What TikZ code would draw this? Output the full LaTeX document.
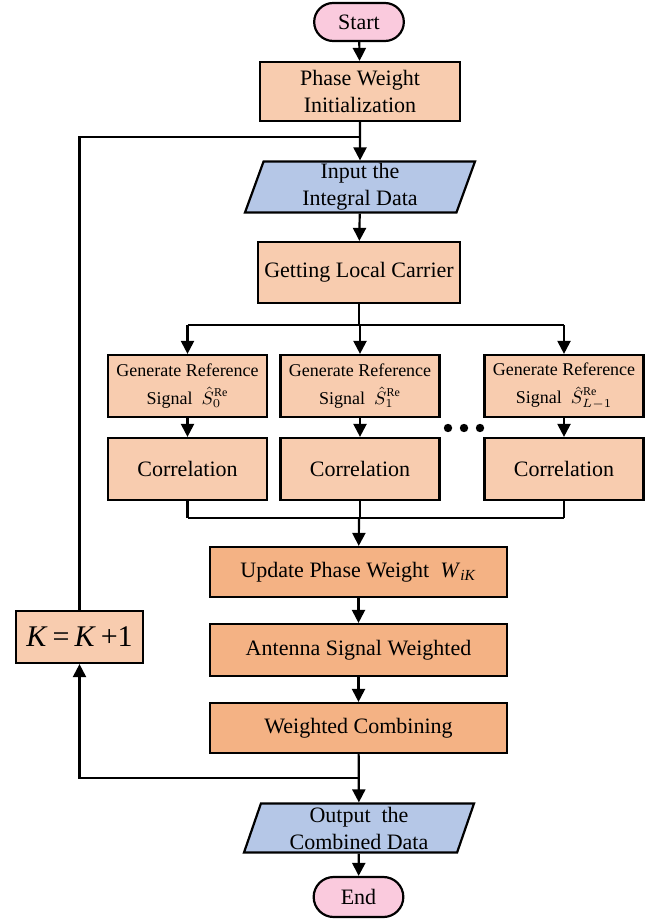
\documentclass[tikz,border=0pt]{standalone}
\usepackage{fontspec}
\setmainfont{Liberation Serif}
\usetikzlibrary{arrows.meta,
                positioning,
                shapes.geometric,
                shapes.misc}

\definecolor{pinkfill}{RGB}{250,202,221}
\definecolor{peach}{RGB}{248,204,175}
\definecolor{darkpeach}{RGB}{244,178,132}
\definecolor{bluefill}{RGB}{181,199,231}

\tikzset{
  terminal/.style = {draw, line width=1.1pt, rounded rectangle, fill=pinkfill,
                     minimum width=51.5pt, minimum height=19pt,
                     font=\fontsize{11}{13.5}\selectfont},
  process/.style  = {draw, line width=1.1pt, fill=peach, align=center, inner sep=1pt,
                     font=\fontsize{11}{13.5}\selectfont},
  gen/.style      = {process, minimum width=79.5pt, minimum height=31pt,
                     font=\fontsize{9}{11}\selectfont},
  io/.style       = {draw, line width=1.1pt, fill=bluefill, trapezium,
                     trapezium left angle=70, trapezium right angle=110,
                     trapezium stretches body, align=center, inner sep=1pt,
                     minimum width=115pt, minimum height=24.5pt,
                     font=\fontsize{11}{13.5}\selectfont},
  wire/.style     = {line width=1.1pt},
  link/.style     = {wire, -{Triangle[length=6.5pt,width=6.5pt]}}
}

\begin{document}
\begin{tikzpicture}[x=0.5pt, y=-0.5pt]
\useasboundingbox (0,0) rectangle (652,919);

\node (start) [terminal] at (359,22) {Start};
\node (init) [process, minimum width=100pt, minimum height=29.5pt] at (360,91.5)
     {Phase Weight\\Initialization};
\node (input) [io] at (360,187) {Input the\\Integral Data};
\node (carrier) [process, minimum width=101pt, minimum height=30.5pt] at (359,272.5)
     {Getting Local Carrier};

\coordinate (top) at (360,137);
\coordinate (split) at (359,325);
\coordinate (merge) at (359,518);
\coordinate (back) at (359,778);

% three branches
\foreach \n/\xc/\sub in {0/187.5/0, 1/360/1, 2/564/{L-1}} {
    \node (gen\n) [gen] at (\xc,386) {Generate Reference\\[3pt]Signal\ \ $\hat{S}_{\sub}^{\mathrm{Re}}$};
    \node (cor\n) [process, minimum width=79.5pt, minimum height=31pt] at (\xc,469) {Correlation};
    \draw[link] (gen\n.north |- split) -- (gen\n.north);
    \draw[link] (gen\n) -- (cor\n);
    \draw[wire] (cor\n.south) -- (cor\n.south |- merge);
}
\foreach \d in {448,464,480}
    \fill (\d,428) circle (2.1pt);

\node (update) [process, fill=darkpeach, minimum width=148.5pt, minimum height=25pt] at (358.5,572)
     {Update Phase Weight\ \ \textit{W}\textsubscript{\textit{iK}}};
\node (antenna) [process, fill=darkpeach, minimum width=148.5pt, minimum height=26pt] at (358.5,650)
     {Antenna Signal Weighted};
\node (weighted) [process, fill=darkpeach, minimum width=148.5pt, minimum height=25pt] at (358.5,728)
     {Weighted Combining};
\node (kbox) [process, minimum width=63.5pt, minimum height=26pt,
              font=\fontsize{15}{17}\selectfont] at (79.5,637)
     {\textit{K}\,=\,\textit{K}\,+1};
\node (output) [io] at (359,828) {Output\ \ the\\Combined Data};
\node (end) [terminal, minimum height=20pt] at (358.5,897) {End};

% main flow
\draw[link] (start) -- (init);
\draw[link] (init) -- (input);
\draw[link] (input) -- (carrier);
\draw[wire] (carrier.south) -- (split);
\draw[wire] (gen0.north |- split) -- (gen2.north |- split);
\draw[wire] (cor0.south |- merge) -- (cor2.south |- merge);
\draw[link] (merge) -- (update);
\draw[link] (update) -- (antenna);
\draw[link] (antenna) -- (weighted);
\draw[link] (weighted) -- (output);
\draw[link] (output) -- (end);

% feedback loop
\draw[link] (back) -| (kbox.south);
\draw[wire] (kbox.north) |- (top);
\end{tikzpicture}
\end{document}
